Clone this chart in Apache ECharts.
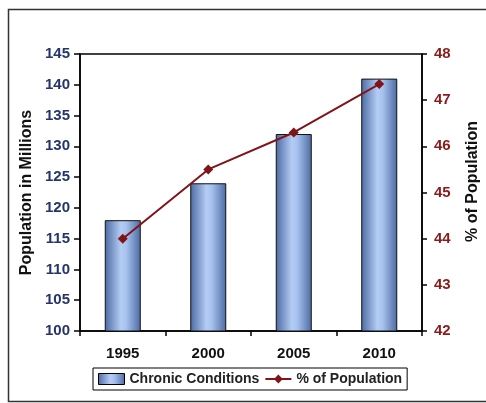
<!DOCTYPE html>
<html>
<head>
<meta charset="utf-8">
<script src="https://cdn.jsdelivr.net/npm/echarts@6/dist/echarts.min.js"></script>
<style>
  html, body { margin: 0; padding: 0; background: #fff; }
  #chart { width: 486px; height: 403px; }
</style>
</head>
<body>
<div id="chart"></div>
<script>
var years = ["1995", "2000", "2005", "2010"];
var chronic = [118, 124, 132, 141];
var pctPop = [44, 45.5, 46.3, 47.35];

var barColor = {
    type: "linear",
    x: 0, y: 0, x2: 1, y2: 0,
    colorStops: [
        { offset: 0, color: "#4c6aa3" },
        { offset: 0.45, color: "#b4cdf5" },
        { offset: 0.6, color: "#a6c1ee" },
        { offset: 1, color: "#4c6aa3" }
    ]
};

var font = "Liberation Sans";

var option = {
    backgroundColor: "#fff",
    animation: false,
    graphic: [
        {
            type: "rect",
            shape: { x: 8.5, y: 9.5, width: 500, height: 392 },
            style: { fill: "none", stroke: "#333", lineWidth: 1.5 },
            silent: true
        }
    ],
    grid: {
        left: 80, right: 64, top: 54, bottom: 72,
        outerBoundsMode: "none",
        show: true,
        borderColor: "#000",
        borderWidth: 1.5,
        backgroundColor: "transparent"
    },
    legend: {
        bottom: 13,
        left: 93,
        itemGap: 5,
        itemWidth: 26,
        itemHeight: 11,
        padding: [4, 5],
        borderColor: "#000",
        borderWidth: 1,
        textStyle: { fontFamily: font, fontWeight: "bold", fontSize: 14, color: "#222" },
        data: [
            { name: "Chronic Conditions", icon: "rect", itemStyle: { color: barColor, borderColor: "#000", borderWidth: 1 } },
            { name: "% of Population" }
        ]
    },
    xAxis: {
        type: "category",
        data: years,
        axisLine: { lineStyle: { color: "#000", width: 1.5 } },
        axisTick: { show: true, length: 5, lineStyle: { color: "#000", width: 1.5 } },
        axisLabel: { fontFamily: font, fontWeight: "bold", fontSize: 15, color: "#111", margin: 15 }
    },
    yAxis: [
        {
            type: "value",
            min: 100, max: 145, interval: 5,
            name: "Population in Millions",
            nameLocation: "middle",
            nameGap: 45,
            nameMoveOverlap: false,
            nameTextStyle: { fontFamily: font, fontWeight: "bold", fontSize: 16, color: "#111" },
            axisLine: { show: true, lineStyle: { color: "#000", width: 1.5 } },
            axisTick: { show: true, length: 6, lineStyle: { color: "#000", width: 1.5 } },
            axisLabel: { fontFamily: font, fontWeight: "bold", fontSize: 15, color: "#25356a", margin: 10 },
            splitLine: { show: false }
        },
        {
            type: "value",
            min: 42, max: 48, interval: 1,
            name: "% of Population",
            nameLocation: "middle",
            nameGap: 43,
            nameMoveOverlap: false,
            nameRotate: 90,
            nameTextStyle: { fontFamily: font, fontWeight: "bold", fontSize: 16, color: "#111", padding: [0, 0, 0, 22] },
            axisLine: { show: true, lineStyle: { color: "#000", width: 1.5 } },
            axisTick: { show: true, length: 5, lineStyle: { color: "#000", width: 1.5 } },
            axisLabel: { fontFamily: font, fontWeight: "bold", fontSize: 15, color: "#8b1a1a", margin: 12 },
            splitLine: { show: false }
        }
    ],
    series: [
        {
            name: "Chronic Conditions",
            type: "bar",
            barWidth: 36,
            data: chronic,
            itemStyle: { color: barColor, borderColor: "#111", borderWidth: 1 }
        },
        {
            name: "% of Population",
            type: "line",
            yAxisIndex: 1,
            data: pctPop,
            symbol: "diamond",
            symbolSize: 10,
            lineStyle: { color: "#801518", width: 2 },
            itemStyle: { color: "#801518" }
        }
    ]
};

echarts.init(document.getElementById("chart")).setOption(option);
</script>
</body>
</html>
